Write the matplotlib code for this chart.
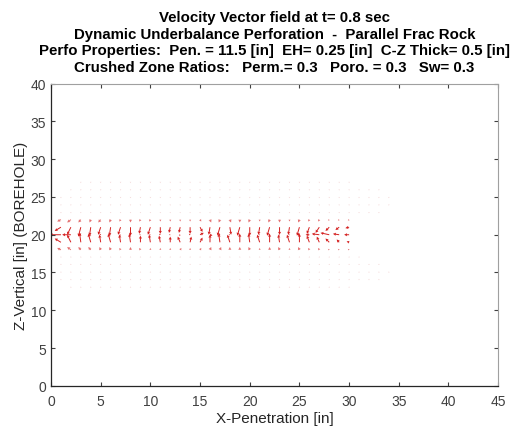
import numpy as np
import matplotlib
matplotlib.use("Agg")
import matplotlib.pyplot as plt

plt.rcParams["font.family"] = ["Liberation Sans", "DejaVu Sans"]

# ----------------------------------------------------------------------
# Data (grid in inches, vector components in inches)
# ----------------------------------------------------------------------
title_lines = [
    "Velocity Vector field at t= 0.8 sec",
    "Dynamic Underbalance Perforation  -  Parallel Frac Rock",
    "Perfo Properties:  Pen. = 11.5 [in]  EH= 0.25 [in]  C-Z Thick= 0.5 [in]",
    "Crushed Zone Ratios:   Perm.= 0.3   Poro. = 0.3   Sw= 0.3",
]

# columns carrying the strong flow around the perforation tunnel (y = 20)
x_cols = [1, 2, 3, 4, 5, 6, 7, 8, 9, 10, 11, 12, 13, 14, 15,
          16, 17, 18, 19, 20, 21, 22, 23, 24, 25, 26, 27, 28, 29, 30]

# row y = 21 (flow coming down onto the tunnel)
u21 = [-0.5, -0.3, -0.2, -0.1, -0.2, -0.1, -0.2, 0.0, -0.1, -0.2, 0.0, -0.1, -0.1, 0.0, 0.2,
       -0.1, -0.2, 0.1, -0.2, 0.0, -0.1, -0.2, 0.0, -0.1, -0.2, -0.2, -0.3, -0.3, -0.3, -0.3]
v21 = [-0.4, -0.8, -1.0, -0.9, -0.8, -0.9, -0.8, -0.9, -0.7, -0.8, -0.7, -0.6, -0.6, -0.7, -0.5,
       -0.8, -0.9, -0.8, -0.9, -0.9, -0.8, -0.9, -0.8, -0.8, -0.9, -0.7, -0.6, -0.4, -0.3, -0.1]

# row y = 19 (flow coming up onto the tunnel)
u19 = [-0.5, -0.3, -0.1, -0.2, -0.1, -0.2, -0.1, -0.1, 0.0, -0.1, -0.1, 0.0, -0.2, 0.1, 0.2,
       0.0, -0.1, -0.2, 0.0, -0.1, -0.2, 0.0, -0.1, -0.2, 0.0, -0.2, -0.2, -0.3, -0.2, -0.2]
v19 = [0.4, 0.8, 1.0, 0.9, 0.8, 0.9, 0.8, 0.9, 0.7, 0.8, 0.7, 0.6, 0.6, 0.6, 0.5,
       0.8, 0.9, 0.8, 0.9, 0.9, 0.8, 0.9, 0.8, 0.8, 0.9, 0.7, 0.6, 0.4, 0.3, 0.1]

# row y = 20 (along the tunnel, toward the borehole)
u20 = [-0.9, -0.7, -0.2, -0.1, -0.1, -0.1, -0.1, -0.1, -0.1, -0.1, -0.1, -0.1, -0.1, -0.1, 0.3,
       0.2, -0.1, -0.1, -0.1, -0.1, -0.1, -0.1, -0.1, -0.1, -0.2, -0.3, -0.6, -0.7, -0.5, -0.4]
v20 = [0.0, 0.0, 0.1, -0.1, 0.1, 0.0, -0.1, 0.1, 0.0, 0.0, 0.1, 0.0, -0.1, 0.1, 0.2,
       -0.1, 0.1, 0.0, -0.1, 0.1, 0.0, 0.1, -0.1, 0.0, 0.1, 0.0, 0.1, 0.2, 0.1, 0.0]

# rows y = 22 and y = 18 (weaker, slanted)
u22 = [-0.3, -0.3, -0.2, -0.1, -0.2, -0.1, -0.1, 0.0, -0.1, -0.1, 0.0, 0.0, 0.0, 0.0, 0.1,
       0.1, -0.1, 0.1, 0.0, -0.1, 0.0, -0.1, 0.0, 0.0, -0.1, -0.1, -0.1, -0.1, -0.1, -0.1]
v22 = [-0.2, -0.3, -0.3, -0.3, -0.3, -0.3, -0.2, -0.3, -0.2, -0.2, -0.2, -0.2, -0.2, -0.2, -0.2,
       -0.3, -0.3, -0.3, -0.3, -0.3, -0.2, -0.3, -0.3, -0.2, -0.3, -0.2, -0.2, -0.1, -0.1, -0.1]
u18 = [-0.3, -0.3, -0.2, -0.2, -0.1, -0.1, -0.1, 0.0, -0.1, 0.0, 0.0, 0.0, 0.1, 0.0, 0.1,
       0.1, 0.1, 0.0, 0.0, -0.1, 0.0, 0.0, -0.1, 0.0, -0.1, -0.1, -0.1, -0.1, -0.1, -0.1]
v18 = [0.2, 0.3, 0.3, 0.3, 0.3, 0.3, 0.2, 0.3, 0.2, 0.2, 0.2, 0.2, 0.2, 0.2, 0.2,
       0.3, 0.3, 0.3, 0.3, 0.3, 0.2, 0.3, 0.3, 0.2, 0.3, 0.2, 0.2, 0.1, 0.1, 0.1]

# faint, near-zero vectors: row -> (first column, last column)
faint_rows = [13, 14, 15, 16, 17, 23, 24, 25, 26, 27]
faint_start = [2, 1, 1, 1, 1, 1, 1, 1, 2, 3]
faint_end = [30, 33, 34, 33, 31, 33, 34, 34, 33, 30]


def main():
    fig = plt.figure(figsize=(5.23, 4.39), dpi=100)
    ax = fig.add_axes([0.0975, 0.119, 0.855, 0.688])

    # faint background field
    fx, fy = [], []
    for r, a, b in zip(faint_rows, faint_start, faint_end):
        for c in range(a, b + 1):
            fx.append(c); fy.append(r)
    fx = np.array(fx, float); fy = np.array(fy, float)
    ax.quiver(fx, fy, np.zeros_like(fx), np.where(fy > 20, -0.15, 0.15),
              angles="xy", scale_units="xy", scale=1, color="#f2d0d0",
              width=0.002, headwidth=2.5, headlength=2, headaxislength=2)

    xc = np.array(x_cols, float)
    for yrow, u, v, col in [(22, u22, v22, "#e47070"), (18, u18, v18, "#e47070"),
                            (21, u21, v21, "#d42020"), (19, u19, v19, "#d42020"),
                            (20, u20, v20, "#d42020")]:
        ax.quiver(xc, np.full_like(xc, yrow), u, v, angles="xy", scale_units="xy",
                  scale=0.8, color=col, width=0.0022, headwidth=3.2, headlength=3,
                  headaxislength=2.7)

    ax.set_xlim(0, 45)
    ax.set_ylim(0, 40)
    ax.set_xticks(range(0, 46, 5))
    ax.set_yticks(range(0, 41, 5))
    ax.tick_params(direction="in", length=3, colors="#404040", labelsize=10,
                   top=True, right=True)
    ax.tick_params(axis="x", pad=6)
    for s in ("left", "bottom"):
        ax.spines[s].set_color("#262626")
        ax.spines[s].set_linewidth(0.9)
    for s in ("top", "right"):
        ax.spines[s].set_color("#a0a0a0")
        ax.spines[s].set_linewidth(0.8)

    ax.set_xlabel("X-Penetration [in]", fontsize=11, color="#262626", labelpad=2)
    ax.set_ylabel("Z-Vertical [in] (BOREHOLE)", fontsize=11, color="#262626", labelpad=2)
    ax.set_title("\n".join(title_lines), fontsize=10.8, fontweight="bold",
                 linespacing=1.25, pad=9)

    fig.savefig("out.png", dpi=100)
    plt.close(fig)


if __name__ == "__main__":
    main()
